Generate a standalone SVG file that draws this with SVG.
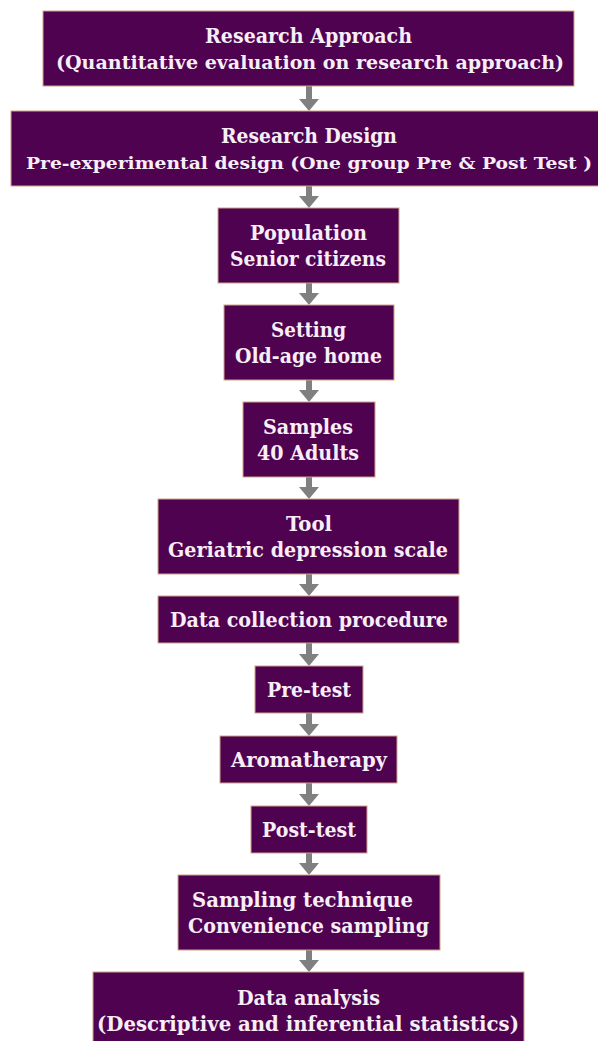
<svg xmlns="http://www.w3.org/2000/svg" width="598" height="1041" viewBox="0 0 598 1041">
<style>
.box{fill:#4f0250;stroke:#cfa387;stroke-width:1}
.t{font-family:"DejaVu Serif","Liberation Serif",serif;font-weight:bold;font-size:20.5px;fill:#f7eef7;text-anchor:middle}
.w{font-size:19px}
.w2{font-size:17.5px}
.c{stroke:#808080;stroke-width:6;fill:none}
</style>
<defs>
<marker id="ah" markerUnits="userSpaceOnUse" viewBox="0 0 12 20" markerWidth="12" markerHeight="20" refX="0" refY="10" orient="auto">
<path d="M0,0 L12,10 L0,20 Z" fill="#808080"/>
</marker>
</defs>
<rect width="598" height="1041" fill="#ffffff"/>
<g id="connectors">
<line class="c" x1="309" y1="86" x2="309" y2="99" marker-end="url(#ah)"/>
<line class="c" x1="309" y1="186" x2="309" y2="196" marker-end="url(#ah)"/>
<line class="c" x1="309" y1="283" x2="309" y2="293" marker-end="url(#ah)"/>
<line class="c" x1="309" y1="380" x2="309" y2="390" marker-end="url(#ah)"/>
<line class="c" x1="309" y1="477" x2="309" y2="487" marker-end="url(#ah)"/>
<line class="c" x1="309" y1="574" x2="309" y2="584" marker-end="url(#ah)"/>
<line class="c" x1="309" y1="643" x2="309" y2="654" marker-end="url(#ah)"/>
<line class="c" x1="309" y1="713" x2="309" y2="724" marker-end="url(#ah)"/>
<line class="c" x1="309" y1="783" x2="309" y2="794" marker-end="url(#ah)"/>
<line class="c" x1="309" y1="853" x2="309" y2="863" marker-end="url(#ah)"/>
<line class="c" x1="309" y1="950" x2="309" y2="960" marker-end="url(#ah)"/>
</g>
<g id="n1">
<rect class="box" x="43" y="11" width="531" height="75"/>
<text class="t" x="308.5" y="43" textLength="207" lengthAdjust="spacingAndGlyphs">Research Approach</text>
<text class="t w" x="310" y="69" textLength="508" lengthAdjust="spacingAndGlyphs">(Quantitative evaluation on research approach)</text>
</g>
<g id="n2">
<rect class="box" x="11" y="111" width="600" height="75"/>
<text class="t" x="309" y="143" textLength="176" lengthAdjust="spacingAndGlyphs">Research Design</text>
<text class="t w2" x="309" y="169" textLength="566" lengthAdjust="spacingAndGlyphs">Pre-experimental design (One group Pre &amp; Post Test )</text>
</g>
<g id="n3">
<rect class="box" x="218" y="208" width="181" height="75"/>
<text class="t" x="308.5" y="240" textLength="117" lengthAdjust="spacingAndGlyphs">Population</text>
<text class="t" x="308" y="266" textLength="156" lengthAdjust="spacingAndGlyphs">Senior citizens</text>
</g>
<g id="n4">
<rect class="box" x="224" y="305" width="170" height="75"/>
<text class="t" x="308.5" y="337" textLength="75" lengthAdjust="spacingAndGlyphs">Setting</text>
<text class="t" x="308.5" y="363" textLength="147" lengthAdjust="spacingAndGlyphs">Old-age home</text>
</g>
<g id="n5">
<rect class="box" x="243" y="402" width="132" height="75"/>
<text class="t" x="308" y="434" textLength="90" lengthAdjust="spacingAndGlyphs">Samples</text>
<text class="t" x="308" y="460" textLength="102" lengthAdjust="spacingAndGlyphs">40 Adults</text>
</g>
<g id="n6">
<rect class="box" x="158" y="499" width="301" height="75"/>
<text class="t" x="309" y="531" textLength="46" lengthAdjust="spacingAndGlyphs">Tool</text>
<text class="t" x="308" y="557" textLength="280" lengthAdjust="spacingAndGlyphs">Geriatric depression scale</text>
</g>
<g id="n7">
<rect class="box" x="158" y="596" width="301" height="47"/>
<text class="t" x="309" y="627" textLength="278" lengthAdjust="spacingAndGlyphs">Data collection procedure</text>
</g>
<g id="n8">
<rect class="box" x="255" y="666" width="108" height="47"/>
<text class="t" x="309" y="697" textLength="84" lengthAdjust="spacingAndGlyphs">Pre-test</text>
</g>
<g id="n9">
<rect class="box" x="220" y="736" width="177" height="47"/>
<text class="t" x="309" y="767" textLength="156" lengthAdjust="spacingAndGlyphs">Aromatherapy</text>
</g>
<g id="n10">
<rect class="box" x="251" y="806" width="116" height="47"/>
<text class="t" x="309" y="837" textLength="94" lengthAdjust="spacingAndGlyphs">Post-test</text>
</g>
<g id="n11">
<rect class="box" x="178" y="875" width="262" height="75"/>
<text class="t" x="302.5" y="907" textLength="221" lengthAdjust="spacingAndGlyphs">Sampling technique</text>
<text class="t" x="308.5" y="933" textLength="241" lengthAdjust="spacingAndGlyphs">Convenience sampling</text>
</g>
<g id="n12">
<rect class="box" x="93" y="972" width="431" height="80"/>
<text class="t" x="308.5" y="1005" textLength="143" lengthAdjust="spacingAndGlyphs">Data analysis</text>
<text class="t" x="308" y="1031" textLength="422" lengthAdjust="spacingAndGlyphs">(Descriptive and inferential statistics)</text>
</g>
</svg>
